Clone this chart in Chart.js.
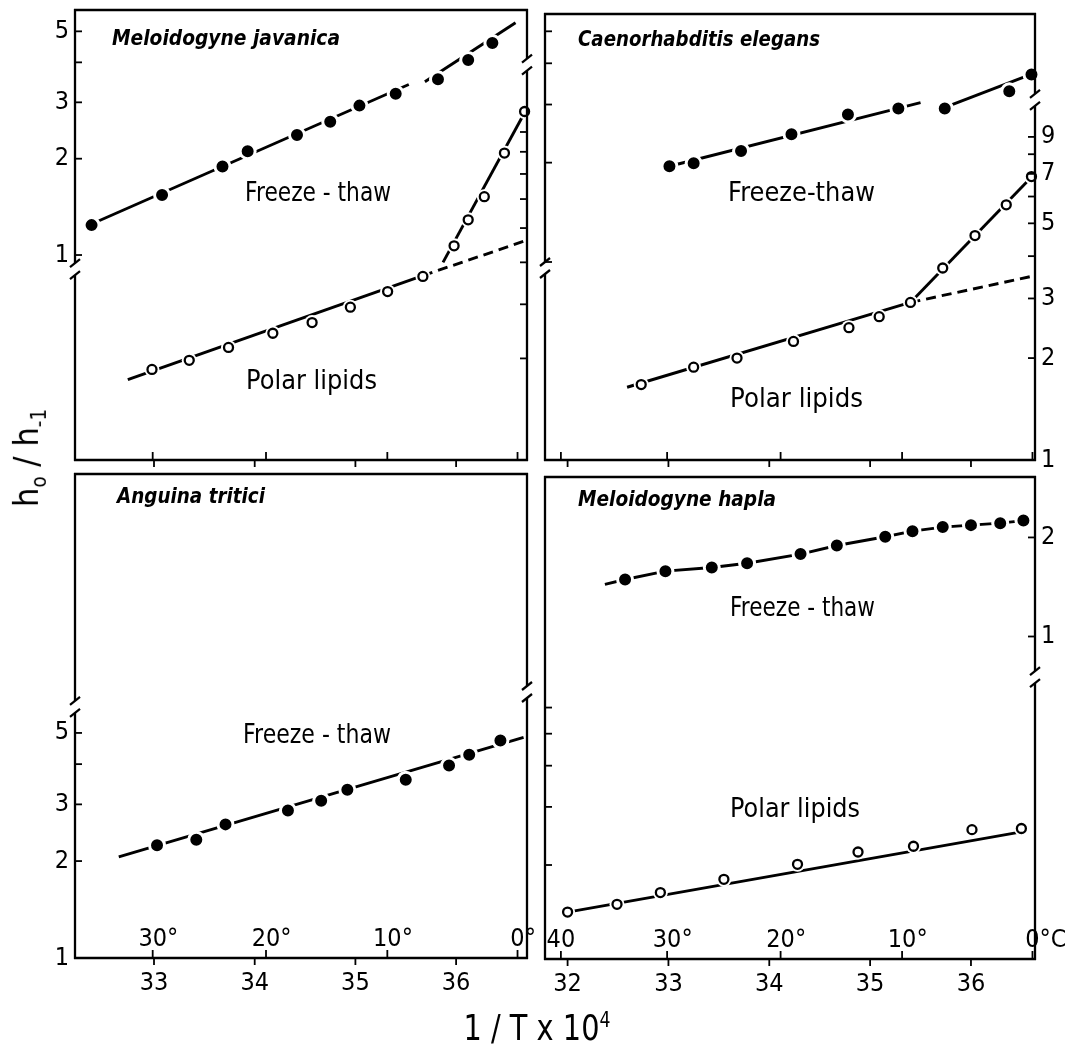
<!DOCTYPE html>
<html>
<head>
<meta charset="utf-8">
<title>h0/h-1 against 1/T</title>
<script src="https://cdn.jsdelivr.net/npm/chart.js@4.4.1/dist/chart.umd.min.js"></script>
<style>
  html, body { margin: 0; padding: 0; background: #fff; }
  body { position: relative; width: 1065px; height: 1047px; overflow: hidden; }
  canvas { position: absolute; }
  .axis-title { position: absolute; color: #000; white-space: nowrap; font-family: "DejaVu Sans", sans-serif; line-height: 1; }
  #ytitle { left: 29px; top: 458px; font-size: 34px; transform: translate(-50%, -50%) rotate(-90deg) scaleX(0.9); }
  #xtitle { left: 537px; top: 1027px; font-size: 36px; transform: translate(-50%, -50%) scaleX(0.8); }
  sub, sup { font-size: 60%; }
</style>
</head>
<body>
<canvas id="javanica"></canvas>
<canvas id="elegans"></canvas>
<canvas id="tritici"></canvas>
<canvas id="hapla"></canvas>
<div id="ytitle" class="axis-title">h<sub>o</sub> / h<sub>-1</sub></div>
<div id="xtitle" class="axis-title">1 / T x 10<sup>4</sup></div>
<script>
const FONT = '"Liberation Sans Narrow", "DejaVu Sans Condensed", "DejaVu Sans", sans-serif';
const TEXT_FONT = '"DejaVu Sans", sans-serif';

// x axis: 1/T x 10^4, with the Celsius scale marked on the same axis
const invTTicksLeft = [33, 34, 35, 36];
const invTTicksRight = [32, 33, 34, 35, 36];
const celsiusLeft = [30, 20, 10, 0];
const celsiusLeftLabels = ['30°', '20°', '10°', '0°'];
const celsiusRight = [40, 30, 20, 10, 0];
const celsiusRightLabels = ['40', '30°', '20°', '10°', '0°C'];

// Meloidogyne javanica
const javFtX = [32.38, 33.08, 33.68, 33.93, 34.42, 34.75, 35.04, 35.40, 35.82, 36.12, 36.36];
const javFtY = [1.24, 1.54, 1.89, 2.11, 2.37, 2.61, 2.93, 3.19, 3.54, 4.07, 4.60];
const javFtFit1X = [32.33, 35.53];
const javFtFit1Y = [1.23, 3.41];
const javFtFit2X = [35.69, 36.59];
const javFtFit2Y = [3.48, 5.32];
const javPlX = [32.98, 33.35, 33.74, 34.18, 34.57, 34.95, 35.32, 35.67, 35.98, 36.12, 36.28, 36.48, 36.68];
const javPlY = [2.83, 2.97, 3.18, 3.43, 3.63, 3.94, 4.28, 4.64, 5.46, 6.27, 7.09, 8.94, 11.15];
const javPlFitX = [32.74, 35.67, 36.68];
const javPlFitY = [2.68, 4.66, 5.60];
const javPlSteepX = [35.87, 36.70];
const javPlSteepY = [5.00, 11.3];

// Caenorhabditis elegans
const eleFtX = [33.01, 33.25, 33.72, 34.22, 34.78, 35.28, 35.74, 36.38, 36.60];
const eleFtY = [1.95, 1.99, 2.17, 2.44, 2.80, 2.92, 2.92, 3.29, 3.70];
const eleFtFit1X = [33.01, 35.50];
const eleFtFit1Y = [1.95, 3.04];
const eleFtFit2X = [35.69, 36.64];
const eleFtFit2Y = [2.90, 3.75];
const elePlX = [32.73, 33.25, 33.68, 34.24, 34.79, 35.09, 35.40, 35.72, 36.04, 36.35, 36.60];
const elePlY = [1.67, 1.88, 2.00, 2.24, 2.46, 2.65, 2.92, 3.69, 4.60, 5.67, 6.87];
const elePlFitX = [32.59, 35.40, 36.59];
const elePlFitY = [1.64, 2.92, 3.48];
const elePlSteepX = [35.40, 36.62];
const elePlSteepY = [2.92, 6.95];

// Anguina tritici
const angFtX = [33.03, 33.42, 33.71, 34.33, 34.66, 34.92, 35.50, 35.93, 36.13, 36.44];
const angFtY = [2.24, 2.33, 2.60, 2.87, 3.08, 3.33, 3.58, 3.96, 4.28, 4.74];
const angFtFitX = [32.65, 36.67];
const angFtFitY = [2.06, 4.84];

// Meloidogyne hapla
const hapFtX = [32.57, 32.97, 33.43, 33.78, 34.31, 34.67, 35.15, 35.42, 35.72, 36.00, 36.29, 36.52];
const hapFtY = [1.49, 1.58, 1.62, 1.67, 1.78, 1.89, 2.01, 2.09, 2.15, 2.18, 2.21, 2.25];
const hapFtStart = [32.37, 1.44];
const hapPlX = [32.00, 32.49, 32.92, 33.55, 34.28, 34.88, 35.43, 36.01, 36.50];
const hapPlY = [1.44, 1.52, 1.65, 1.81, 2.01, 2.19, 2.28, 2.56, 2.58];
const hapPlFitX = [32.00, 36.50];
const hapPlFitY = [1.44, 2.52];

const pts = (xs, ys) => xs.map((x, i) => ({ x, y: ys[i] }));

function filled(xs, ys, axis) {
  return [{
    data: pts(xs, ys), yAxisID: axis, showLine: false, order: 0, clip: false,
    pointRadius: 7.5, pointBorderWidth: 3, pointBackgroundColor: '#000', pointBorderColor: '#fff'
  }];
}

function open(xs, ys, axis) {
  return [
    {
      data: pts(xs, ys), yAxisID: axis, showLine: false, order: 0, clip: false,
      pointRadius: 4.5, pointBorderWidth: 2.3, pointBackgroundColor: '#fff', pointBorderColor: '#000'
    },
    {
      // white halo so the line stops short of each circle
      data: pts(xs, ys), yAxisID: axis, showLine: false, order: 1, clip: false,
      pointRadius: 7.5, pointBorderWidth: 0, pointBackgroundColor: '#fff', pointBorderColor: '#fff'
    }
  ];
}

function line(xs, ys, axis, dashFrom) {
  const ds = {
    data: pts(xs, ys), yAxisID: axis, showLine: true, order: 2, clip: false,
    pointRadius: 0, borderColor: '#000', borderWidth: 2.9, tension: 0
  };
  if (dashFrom != null) {
    ds.segment = { borderDash: c => (c.p0DataIndex >= dashFrom ? [10, 6] : undefined) };
  }
  return [ds];
}

// frame with axis breaks, inward ticks, Celsius marks and the panel texts
const decor = {
  id: 'decor',
  afterDatasetsDraw(chart, args, o) {
    const { ctx, chartArea: a, scales } = chart;
    const seg = (x1, y1, x2, y2) => { ctx.beginPath(); ctx.moveTo(x1, y1); ctx.lineTo(x2, y2); ctx.stroke(); };
    const side = (x, yb) => {
      if (yb == null) { seg(x, a.top - 1, x, a.bottom + 1); return; }
      seg(x, a.top - 1, x, yb - 6);
      seg(x, yb + 6, x, a.bottom + 1);
      seg(x - 5, yb - 2, x + 5, yb - 10);
      seg(x - 5, yb + 10, x + 5, yb + 2);
    };
    ctx.save();
    ctx.strokeStyle = '#000';
    ctx.fillStyle = '#000';
    ctx.lineWidth = 2.3;
    seg(a.left - 1, a.top, a.right + 1, a.top);
    seg(a.left - 1, a.bottom, a.right + 1, a.bottom);
    side(a.left, o.breakL ? scales.yL.getPixelForValue(o.breakL) : null);
    side(a.right, o.breakR ? scales.yR.getPixelForValue(o.breakR) : null);

    ctx.lineWidth = 1.8;
    o.ticksL.forEach(v => { const y = scales.yL.getPixelForValue(v); seg(a.left, y, a.left + 7, y); });
    o.ticksR.forEach(v => { const y = scales.yR.getPixelForValue(v); seg(a.right - 7, y, a.right, y); });
    o.xTicks.forEach(v => { const x = scales.x.getPixelForValue(v); seg(x, a.bottom, x, a.bottom + 7); });

    ctx.font = '25px ' + FONT;
    ctx.textBaseline = 'middle';
    ctx.textAlign = 'left';
    o.celsius.forEach((c, i) => {
      const x = scales.x.getPixelForValue(1e4 / (c + 273.15));
      seg(x, a.bottom, x, a.bottom - 8);
      if (o.celsiusLabels) {
        const m = /^(\d+)(.*)$/.exec(o.celsiusLabels[i]);
        const dw = ctx.measureText(m[1]).width;
        ctx.fillText(m[1], x - dw / 2, a.bottom - 19);
        ctx.fillText(m[2], x + dw / 2, a.bottom - 19);
      }
    });

    o.texts.forEach(t => {
      ctx.font = (t.style || '') + ' ' + t.size + 'px ' + TEXT_FONT;
      const w = ctx.measureText(t.t).width;
      ctx.save();
      ctx.translate(t.x - o.ox, t.y - o.oy);
      ctx.scale(t.w / w, 1);
      ctx.fillText(t.t, 0, 0);
      ctx.restore();
    });
    ctx.restore();
  }
};

const panels = [
  {
    id: 'javanica', frame: [75, 10, 527, 460], xMin: 32.2155, xMax: 36.704, xTicks: invTTicksLeft, showX: false,
    yL: { min: 0.2288, max: 5.83, ticks: [1, 2, 3, 4, 5], labels: [1, 2, 3, 5] },
    yR: { min: 1.748, max: 19.13, ticks: [3, 4, 5, 6, 7, 8, 9, 10], labels: [] },
    breakL: 0.904, breakR: 14.3, celsius: celsiusLeft, celsiusLabels: null,
    texts: [
      { t: 'Meloidogyne javanica', x: 112, y: 40, w: 228, size: 21, style: 'italic bold' },
      { t: 'Freeze - thaw', x: 245, y: 194, w: 146, size: 27 },
      { t: 'Polar lipids', x: 246, y: 382, w: 131, size: 27 }
    ],
    datasets: [
      ...filled(javFtX, javFtY, 'yL'),
      ...line(javFtFit1X, javFtFit1Y, 'yL'),
      ...line(javFtFit2X, javFtFit2Y, 'yL'),
      ...open(javPlX, javPlY, 'yR'),
      ...line(javPlFitX, javPlFitY, 'yR', 1),
      ...line(javPlSteepX, javPlSteepY, 'yR')
    ]
  },
  {
    id: 'elegans', frame: [545, 14, 1035, 460], xMin: 31.776, xMax: 36.635, xTicks: invTTicksRight, showX: false,
    yL: { min: 0.2512, max: 5.642, ticks: [1, 2, 3, 4, 5], labels: [] },
    yR: { min: 1, max: 20.76, ticks: [1, 2, 3, 4, 5, 6, 7, 8, 9], labels: [1, 2, 3, 5, 7, 9] },
    breakL: 0.959, breakR: 11.57, celsius: celsiusRight, celsiusLabels: null,
    texts: [
      { t: 'Caenorhabditis elegans', x: 578, y: 41, w: 242, size: 21, style: 'italic bold' },
      { t: 'Freeze-thaw', x: 728, y: 194, w: 147, size: 27 },
      { t: 'Polar lipids', x: 730, y: 400, w: 133, size: 27 }
    ],
    datasets: [
      ...filled(eleFtX, eleFtY, 'yL'),
      ...line(eleFtFit1X, eleFtFit1Y, 'yL'),
      ...line(eleFtFit2X, eleFtFit2Y, 'yL'),
      ...open(elePlX, elePlY, 'yR'),
      ...line(elePlFitX, elePlFitY, 'yR', 1),
      ...line(elePlSteepX, elePlSteepY, 'yR')
    ]
  },
  {
    id: 'tritici', frame: [75, 474, 527, 958], xMin: 32.2155, xMax: 36.704, xTicks: invTTicksLeft, showX: true,
    yL: { min: 1, max: 31.85, ticks: [1, 2, 3, 4, 5], labels: [1, 2, 3, 5] },
    yR: { min: 1, max: 31.85, ticks: [], labels: [] },
    breakL: 6.02, breakR: 6.70, celsius: celsiusLeft, celsiusLabels: celsiusLeftLabels,
    texts: [
      { t: 'Anguina tritici', x: 117, y: 498, w: 148, size: 21, style: 'italic bold' },
      { t: 'Freeze - thaw', x: 243, y: 736, w: 148, size: 27 }
    ],
    datasets: [
      ...filled(angFtX, angFtY, 'yL'),
      ...line(angFtFitX, angFtFitY, 'yL')
    ]
  },
  {
    id: 'hapla', frame: [545, 477, 1035, 959], xMin: 31.776, xMax: 36.635, xTicks: invTTicksRight, showX: true,
    yL: { min: 1.038, max: 29.98, ticks: [2, 3, 4, 5, 6], labels: [] },
    yR: { min: 0.1047, max: 3.053, ticks: [1, 2], labels: [1, 2] },
    breakL: null, breakR: 0.753, celsius: celsiusRight, celsiusLabels: celsiusRightLabels,
    texts: [
      { t: 'Meloidogyne hapla', x: 578, y: 501, w: 198, size: 21, style: 'italic bold' },
      { t: 'Freeze - thaw', x: 730, y: 609, w: 145, size: 27 },
      { t: 'Polar lipids', x: 730, y: 810, w: 130, size: 27 }
    ],
    datasets: [
      ...filled(hapFtX, hapFtY, 'yR'),
      ...line([hapFtStart[0], ...hapFtX], [hapFtStart[1], ...hapFtY], 'yR'),
      ...open(hapPlX, hapPlY, 'yL'),
      ...line(hapPlFitX, hapPlFitY, 'yL')
    ]
  }
];

function yAxis(cfg, position) {
  return {
    type: 'logarithmic',
    position,
    min: cfg.min,
    max: cfg.max,
    afterBuildTicks: s => { s.ticks = (cfg.ticks.length ? cfg.ticks : [cfg.min]).map(v => ({ value: v })); },
    afterFit: s => { s.width = 40; },
    grid: { display: false, drawTicks: false },
    border: { display: false },
    ticks: {
      autoSkip: false, padding: 6, color: '#000',
      font: { family: FONT, size: 25 },
      callback: v => (cfg.labels.includes(v) ? String(v) : '')
    }
  };
}

function xAxis(p) {
  return {
    type: 'linear',
    min: p.xMin,
    max: p.xMax,
    afterBuildTicks: s => { s.ticks = p.xTicks.map(v => ({ value: v })); },
    afterFit: s => { s.height = 50; },
    grid: { display: false, drawTicks: false },
    border: { display: false },
    ticks: {
      display: p.showX, autoSkip: false, maxRotation: 0, padding: 10, color: '#000',
      font: { family: FONT, size: 25 }
    }
  };
}

panels.forEach(p => {
  const cv = document.getElementById(p.id);
  const [L, T, R, B] = p.frame;
  cv.width = R - L + 160;
  cv.height = B - T + 130;
  cv.style.left = (L - 80) + 'px';
  cv.style.top = (T - 40) + 'px';
  new Chart(cv, {
    type: 'scatter',
    data: { datasets: p.datasets },
    options: {
      responsive: false,
      animation: false,
      devicePixelRatio: 1,
      layout: { padding: 40 },
      plugins: {
        legend: { display: false },
        tooltip: { enabled: false },
        decor: {
          ox: L - 80, oy: T - 40,
          breakL: p.breakL, breakR: p.breakR,
          ticksL: p.yL.ticks, ticksR: p.yR.ticks, xTicks: p.xTicks,
          celsius: p.celsius, celsiusLabels: p.celsiusLabels,
          texts: p.texts
        }
      },
      scales: { x: xAxis(p), yL: yAxis(p.yL, 'left'), yR: yAxis(p.yR, 'right') }
    },
    plugins: [decor]
  });
});
</script>
</body>
</html>
